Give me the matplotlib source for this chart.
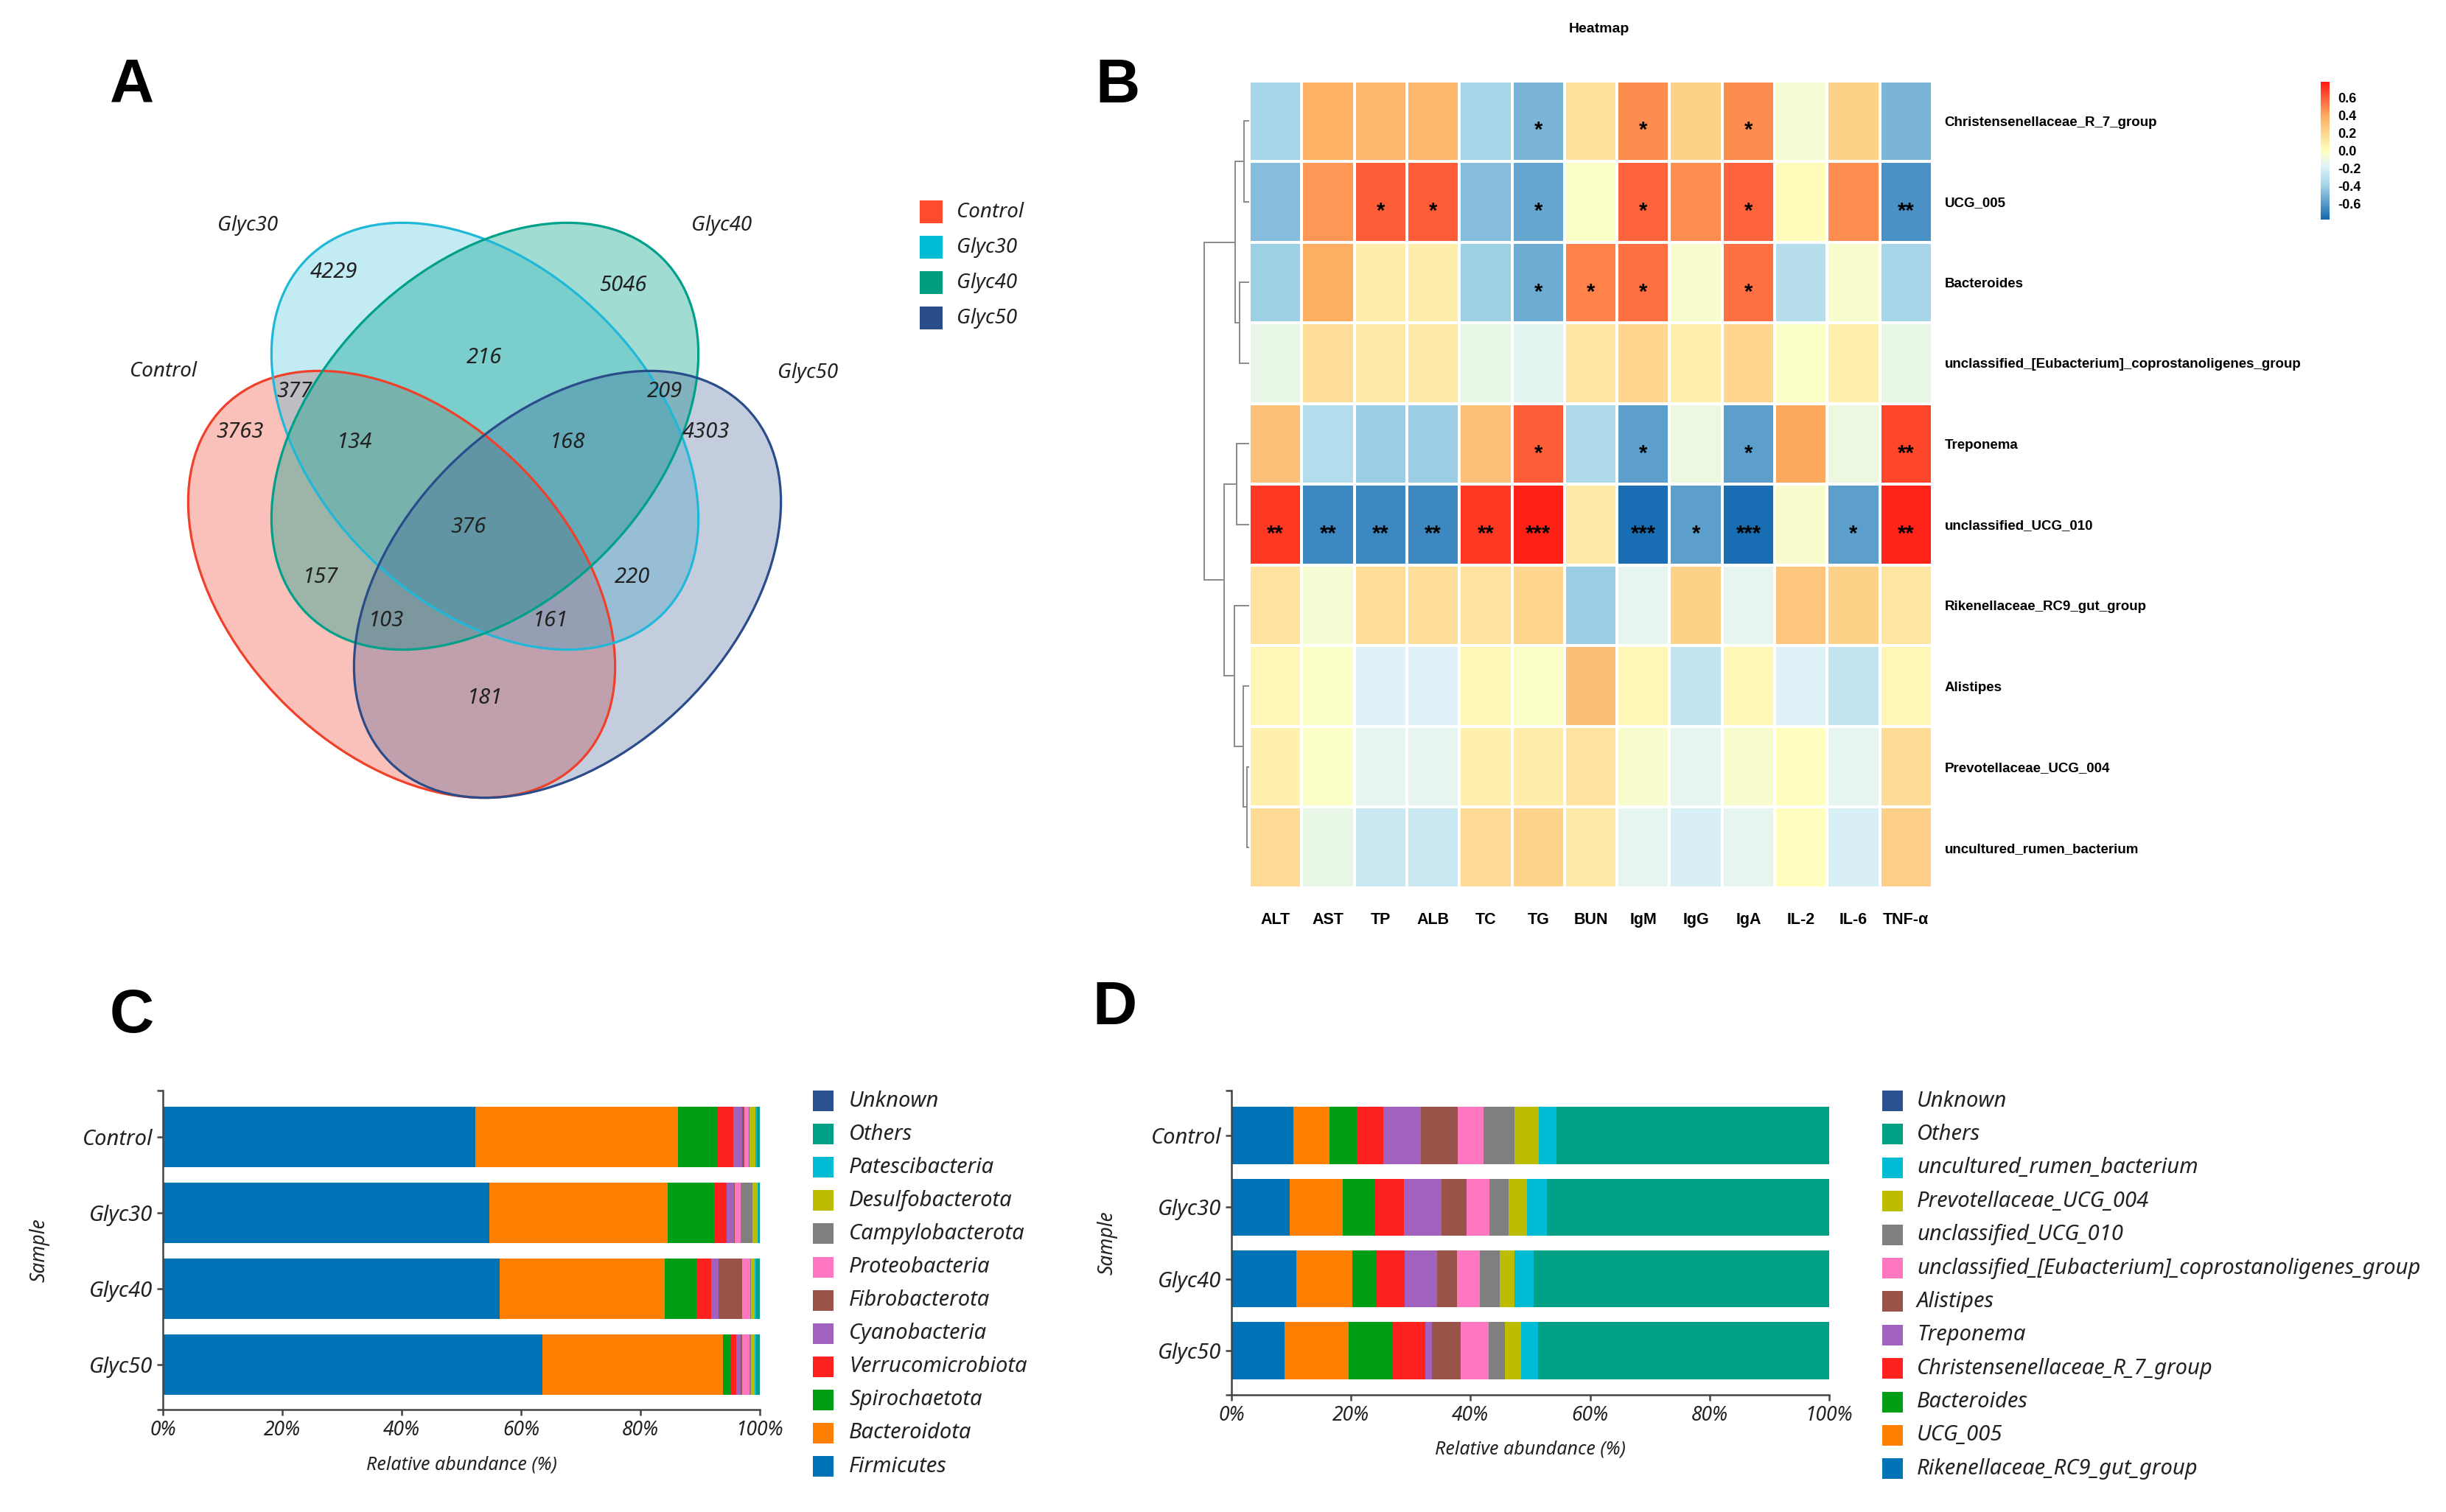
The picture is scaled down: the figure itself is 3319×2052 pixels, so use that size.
import numpy as np
import matplotlib
matplotlib.use("Agg")
import matplotlib.pyplot as plt
from matplotlib.patches import Ellipse, Rectangle
from matplotlib.colors import LinearSegmentedColormap, Normalize
from matplotlib.cm import ScalarMappable

plt.rcParams['font.family'] = ['Noto Sans', 'DejaVu Sans']

# ---------------- DATA ----------------
# Panel A: Venn
venn_sets = ["Control", "Glyc30", "Glyc40", "Glyc50"]
venn_colors = ["#F0402A", "#1FB8D8", "#00A08A", "#2B4C8A"]
venn_legend_colors = ["#FF4A2E", "#00BCD4", "#009E80", "#2B4C8A"]
venn_region_labels = ["4229", "5046", "216", "377", "209", "3763", "134", "168",
                      "4303", "376", "157", "220", "103", "161", "181"]

# Panel B: correlation heatmap
hm_rows = ["Christensenellaceae_R_7_group", "UCG_005", "Bacteroides",
           "unclassified_[Eubacterium]_coprostanoligenes_group", "Treponema",
           "unclassified_UCG_010", "Rikenellaceae_RC9_gut_group", "Alistipes",
           "Prevotellaceae_UCG_004", "uncultured_rumen_bacterium"]
hm_cols = ["ALT", "AST", "TP", "ALB", "TC", "TG", "BUN", "IgM", "IgG", "IgA",
           "IL-2", "IL-6", "TNF-α"]
hm_values = [
    [-0.38, 0.37, 0.34, 0.34, -0.38, -0.50, 0.15, 0.48, 0.22, 0.48, -0.06, 0.22, -0.50],
    [-0.47, 0.45, 0.60, 0.60, -0.47, -0.56, -0.02, 0.58, 0.47, 0.58, 0.02, 0.47, -0.63],
    [-0.41, 0.39, 0.08, 0.08, -0.41, -0.54, 0.50, 0.55, -0.04, 0.55, -0.33, -0.04, -0.38],
    [-0.12, 0.16, 0.10, 0.10, -0.12, -0.15, 0.12, 0.20, 0.07, 0.20, -0.02, 0.07, -0.12],
    [0.30, -0.34, -0.42, -0.42, 0.30, 0.60, -0.36, -0.58, -0.10, -0.58, 0.40, -0.10, 0.66],
    [0.70, -0.66, -0.66, -0.66, 0.70, 0.76, 0.10, -0.76, -0.58, -0.76, -0.04, -0.58, 0.75],
    [0.14, -0.06, 0.16, 0.16, 0.14, 0.20, -0.42, -0.14, 0.22, -0.14, 0.27, 0.22, 0.12],
    [0.04, -0.02, -0.18, -0.18, 0.04, -0.02, 0.31, 0.04, -0.28, 0.04, -0.18, -0.28, 0.04],
    [0.07, -0.02, -0.14, -0.14, 0.07, 0.09, 0.14, -0.04, -0.14, -0.04, 0.00, -0.14, 0.17],
    [0.18, -0.12, -0.25, -0.25, 0.18, 0.21, 0.10, -0.14, -0.20, -0.14, 0.00, -0.20, 0.23],
]
hm_stars = [
    ["", "", "", "", "", "*", "", "*", "", "*", "", "", ""],
    ["", "", "*", "*", "", "*", "", "*", "", "*", "", "", "**"],
    ["", "", "", "", "", "*", "*", "*", "", "*", "", "", ""],
    ["", "", "", "", "", "", "", "", "", "", "", "", ""],
    ["", "", "", "", "", "*", "", "*", "", "*", "", "", "**"],
    ["**", "**", "**", "**", "**", "***", "", "***", "*", "***", "", "*", "**"],
    ["", "", "", "", "", "", "", "", "", "", "", "", ""],
    ["", "", "", "", "", "", "", "", "", "", "", "", ""],
    ["", "", "", "", "", "", "", "", "", "", "", "", ""],
    ["", "", "", "", "", "", "", "", "", "", "", "", ""],
]
# dendrogram merges: (node_a, node_b, height); leaves 0..9, new nodes 10..
dend_merges = [(0, 1, 7), (2, 3, 13), (10, 11, 19), (4, 5, 17), (8, 9, 3.5),
               (7, 14, 8), (6, 15, 20), (13, 16, 34), (12, 17, 61)]
cbar_ticks = [0.6, 0.4, 0.2, 0.0, -0.2, -0.4, -0.6]

# Panel C / D samples
samples = ["Control", "Glyc30", "Glyc40", "Glyc50"]

# Panel C: phylum level (%)
firmicutes = [52.4, 54.7, 56.4, 63.6]
bacteroidota = [33.9, 29.9, 27.7, 30.2]
spirochaetota = [6.7, 7.8, 5.3, 1.2]
verrucomicrobiota = [2.6, 2.0, 2.5, 1.1]
cyanobacteria = [1.4, 1.3, 1.2, 0.7]
fibrobacterota = [0.4, 0.1, 3.9, 0.2]
proteobacteria = [0.8, 1.0, 1.4, 1.3]
campylobacterota = [0.1, 2.0, 0.1, 0.2]
desulfobacterota = [0.9, 0.8, 0.6, 0.6]
patescibacteria = [0.3, 0.2, 0.3, 0.3]
others_c = [0.5, 0.2, 0.6, 0.6]
unknown_c = [0.0, 0.0, 0.0, 0.0]
phylum_names = ["Firmicutes", "Bacteroidota", "Spirochaetota", "Verrucomicrobiota",
                "Cyanobacteria", "Fibrobacterota", "Proteobacteria", "Campylobacterota",
                "Desulfobacterota", "Patescibacteria", "Others", "Unknown"]
phylum_values = [firmicutes, bacteroidota, spirochaetota, verrucomicrobiota,
                 cyanobacteria, fibrobacterota, proteobacteria, campylobacterota,
                 desulfobacterota, patescibacteria, others_c, unknown_c]

# Panel D: genus level (%)
rikenellaceae = [10.3, 9.8, 10.8, 8.9]
ucg_005 = [6.1, 8.8, 9.4, 10.7]
bacteroides = [4.6, 5.5, 4.1, 7.4]
christensenellaceae = [4.4, 4.7, 4.7, 5.4]
treponema = [6.3, 6.4, 5.4, 1.1]
alistipes = [6.1, 4.1, 3.3, 4.9]
uncl_eubacterium = [4.4, 3.8, 3.9, 4.6]
uncl_ucg_010 = [5.2, 3.3, 3.3, 2.8]
prevotellaceae = [4.0, 3.1, 2.5, 2.7]
uncultured_rumen = [3.0, 3.3, 3.1, 2.8]
others_d = [45.6, 47.2, 49.5, 48.7]
unknown_d = [0.0, 0.0, 0.0, 0.0]
genus_names = ["Rikenellaceae_RC9_gut_group", "UCG_005", "Bacteroides",
               "Christensenellaceae_R_7_group", "Treponema", "Alistipes",
               "unclassified_[Eubacterium]_coprostanoligenes_group",
               "unclassified_UCG_010", "Prevotellaceae_UCG_004",
               "uncultured_rumen_bacterium", "Others", "Unknown"]
genus_values = [rikenellaceae, ucg_005, bacteroides, christensenellaceae, treponema,
                alistipes, uncl_eubacterium, uncl_ucg_010, prevotellaceae,
                uncultured_rumen, others_d, unknown_d]

stack_colors = ["#0073B6", "#FF7F00", "#009E14", "#FF2020", "#A062BC", "#9A5348",
                "#FF77C0", "#7F7F7F", "#BCBD00", "#00BCD4", "#00A087", "#2C5190"]
xticks_pct = [0, 20, 40, 60, 80, 100]

# ---------------- FIGURE ----------------
W, H = 3319, 2052
fig = plt.figure(figsize=(W / 100, H / 100), dpi=100)


def fax(x0, y0, x1, y1):
    return fig.add_axes([x0 / W, 1 - y1 / H, (x1 - x0) / W, (y1 - y0) / H])


def ftext(x, y, s, **kw):
    return fig.text(x / W, 1 - y / H, s, **kw)


ITAL = dict(style='italic', color='#222222')
BOLDF = dict(fontweight='bold', family=['Liberation Sans', 'DejaVu Sans'])

# panel letters
for letter, (lx, ly) in zip("ABCD", [(179, 117), (1517, 117), (179, 1379), (1513, 1368)]):
    ftext(lx, ly, letter, fontsize=60, fontweight='bold', ha='center', va='center',
          family=['Liberation Sans', 'DejaVu Sans'])

# ---------------- Panel A: Venn ----------------
axv = fax(150, 250, 1250, 1150)
axv.set_xlim(150, 1250)
axv.set_ylim(1150, 250)
axv.axis('off')
venn_centers = [(545, 793), (658, 592), (658, 592), (770, 793)]
venn_angles = [45, 45, -45, -45]
venn_alpha = [0.32, 0.27, 0.37, 0.28]
ea, eb = 341, 227
for (cx, cy), ang, col, al in zip(venn_centers, venn_angles, venn_colors, venn_alpha):
    axv.add_patch(Ellipse((cx, cy), 2 * ea, 2 * eb, angle=ang, facecolor=col,
                          alpha=al, edgecolor='none'))
for (cx, cy), ang, col in zip(venn_centers, venn_angles, venn_colors):
    axv.add_patch(Ellipse((cx, cy), 2 * ea, 2 * eb, angle=ang, fill=False,
                          edgecolor=col, linewidth=2.3))
region_pos = [(453, 369), (846, 387), (657, 485), (400, 531), (902, 531), (326, 586),
              (481, 600), (770, 600), (958, 586), (636, 715), (435, 783), (858, 783),
              (524, 842), (747, 842), (658, 947)]
for s, (px, py) in zip(venn_region_labels, region_pos):
    axv.text(px, py, s, ha='center', va='center', fontsize=21, **ITAL)
set_label_pos = [(221, 504), (336, 306), (979, 306), (1096, 506)]
for s, (px, py) in zip(venn_sets, set_label_pos):
    ftext(px, py, s, ha='center', va='center', fontsize=20, **ITAL)
for i, (s, c) in enumerate(zip(venn_sets, venn_legend_colors)):
    yc = 288 + i * 48
    fig.add_artist(Rectangle(((1248) / W, 1 - (yc + 15) / H), 31 / W, 31 / H,
                             transform=fig.transFigure, facecolor=c, edgecolor='none'))
    ftext(1298, yc, s, ha='left', va='center', fontsize=20, **ITAL)

# ---------------- Panel B: Heatmap ----------------
cmap = LinearSegmentedColormap.from_list(
    "hm", [(0.0, "#1268B0"), (0.25, "#A6D5E8"), (0.39, "#E0F3F8"), (0.5, "#FFFFBF"),
           (0.75, "#FDAE61"), (1.0, "#FF1A14")])
norm = Normalize(vmin=-0.78, vmax=0.78)
axh = fax(1695, 109.5, 2622, 1205)
vals = np.array(hm_values)
axh.pcolormesh(vals, cmap=cmap, norm=norm, edgecolors='white', linewidth=1.6)
axh.set_xlim(0, len(hm_cols))
axh.set_ylim(len(hm_rows), 0)
for s in axh.spines.values():
    s.set_visible(False)
axh.set_xticks(np.arange(len(hm_cols)) + 0.5)
axh.set_xticklabels(hm_cols, fontsize=15.5, **BOLDF)
axh.yaxis.tick_right()
axh.set_yticks(np.arange(len(hm_rows)) + 0.5)
axh.set_yticklabels(hm_rows, fontsize=13.5, **BOLDF)
axh.tick_params(axis='x', length=0, pad=24)
axh.tick_params(axis='y', length=0, pad=12)
for i, row in enumerate(hm_stars):
    for j, st in enumerate(row):
        if st:
            axh.text(j + 0.5, i + 0.62, st, ha='center', va='center', fontsize=21,
                     color='black', **BOLDF)
ftext(2170, 40, "Heatmap", ha='center', va='center', fontsize=14, **BOLDF)

# dendrogram
axd = fax(1632, 109.5, 1695, 1205)
axd.set_ylim(len(hm_rows), 0)
axd.set_xlim(63, 0)
axd.axis('off')
node_y = {i: i + 0.5 for i in range(len(hm_rows))}
node_h = {i: 0.0 for i in range(len(hm_rows))}
nid = len(hm_rows)
for a, b, h in dend_merges:
    ya, yb = node_y[a], node_y[b]
    axd.plot([node_h[a], h, h, node_h[b]], [ya, ya, yb, yb], color='#8a8a8a', lw=1.4,
             solid_joinstyle='miter')
    node_y[nid] = (ya + yb) / 2
    node_h[nid] = h
    nid += 1

# colorbar
cax = fax(3149, 111, 3161, 298)
cb = fig.colorbar(ScalarMappable(norm=norm, cmap=cmap), cax=cax)
cb.outline.set_visible(False)
cb.set_ticks(cbar_ticks)
cb.set_ticklabels([f"{t:.1f}" for t in cbar_ticks])
cax.tick_params(length=0, pad=8)
for t in cax.get_yticklabels():
    t.set_fontweight('bold')
    t.set_fontsize(13)
    t.set_family(['Liberation Sans', 'DejaVu Sans'])


# ---------------- Panels C & D: stacked bars ----------------
def stacked(ax, names, values, ylim, xl_y, yl_x):
    y = np.arange(len(samples))
    left = np.zeros(len(samples))
    for name, v, c in zip(names, values, stack_colors):
        v = np.array(v)
        ax.barh(y, v, left=left, height=0.8, color=c, linewidth=0, label=name)
        left += v
    ax.set_xlim(0, 100)
    ax.set_ylim(*ylim)
    ax.set_yticks(y)
    ax.set_yticklabels(samples, fontsize=21, **ITAL)
    ax.set_yticks(list(ylim), minor=True)
    ax.set_xticks(xticks_pct)
    ax.set_xticklabels([f"{t}%" for t in xticks_pct], fontsize=19, **ITAL)
    for sp in ['top', 'right']:
        ax.spines[sp].set_visible(False)
    for sp in ['left', 'bottom']:
        ax.spines[sp].set_color('#444444')
        ax.spines[sp].set_linewidth(1.8)
    ax.tick_params(which='both', length=6, width=1.8, color='#444444', pad=4)
    ax.set_xlabel("Relative abundance (%)", fontsize=18, **ITAL)
    ax.set_ylabel("Sample", fontsize=19, **ITAL)
    ax.xaxis.set_label_coords(0.5, xl_y)
    ax.yaxis.set_label_coords(yl_x, 0.5)


axc = fax(221, 1480, 1031, 1913)
stacked(axc, phylum_names, phylum_values, (3.597, -0.616), -0.145, -0.19)
axdd = fax(1671, 1480, 2482, 1893)
stacked(axdd, genus_names, genus_values, (3.62, -0.63), -0.15, -0.19)


def manual_legend(names, x_patch, x_text, y0, pitch):
    for k, (n, c) in enumerate(zip(names[::-1], stack_colors[::-1])):
        yc = y0 + k * pitch
        fig.add_artist(Rectangle((x_patch / W, 1 - (yc + 14) / H), 28 / W, 28 / H,
                                 transform=fig.transFigure, facecolor=c, edgecolor='none'))
        ftext(x_text, yc, n, ha='left', va='center', fontsize=21, **ITAL)


manual_legend(phylum_names, 1103, 1152, 1494, 45.1)
manual_legend(genus_names, 2554, 2601, 1494, 45.4)

fig.savefig("out.png", dpi=100)
